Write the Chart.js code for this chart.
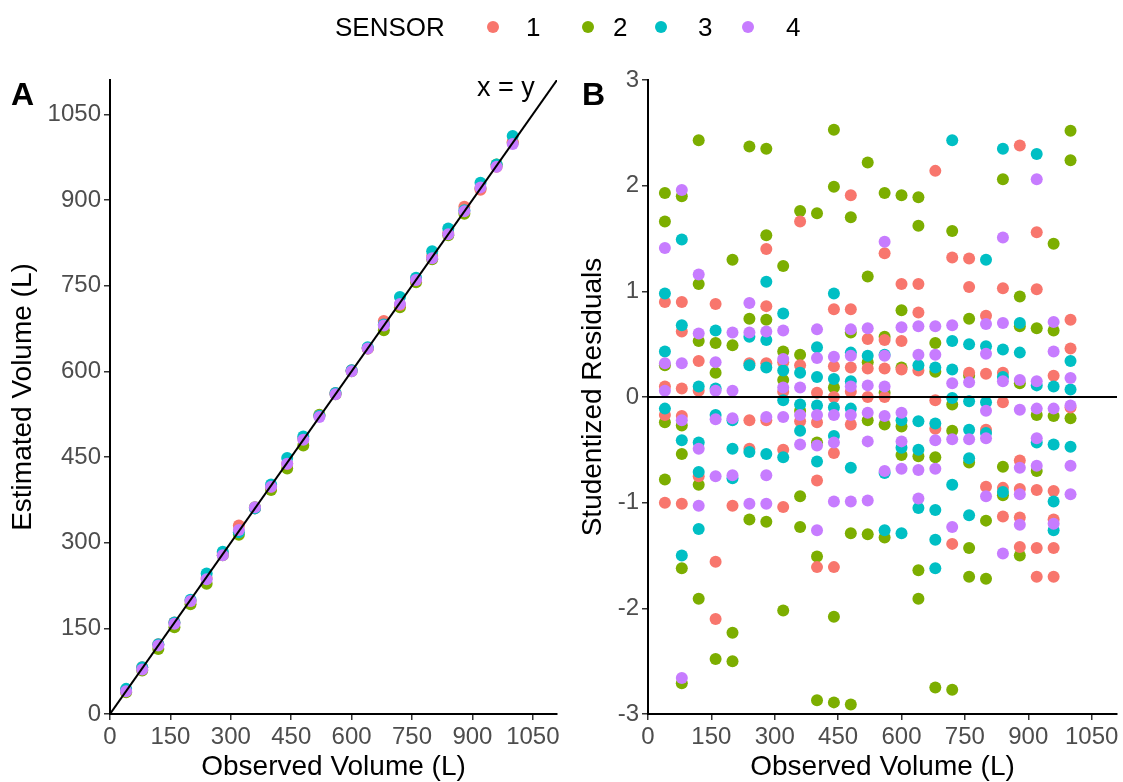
<!DOCTYPE html>
<html>
<head>
<meta charset="utf-8">
<script src="https://cdn.jsdelivr.net/npm/chart.js@4.4.1/dist/chart.umd.min.js"></script>
<style>
  body { margin: 0; background: #fff; font-family: 'Liberation Sans', Arial, sans-serif; }
  #wrap { position: relative; width: 1123px; height: 782px; overflow: hidden; }
  canvas { position: absolute; top: 0; }
  #chartA { left: 0; }
  #chartB { left: 575px; }
  .lbl { position: absolute; color: #000; white-space: nowrap; line-height: 1; }
  .panel { font-weight: bold; font-size: 32px; }
  .dot { position: absolute; width: 12px; height: 12px; border-radius: 50%; }
</style>
</head>
<body>
<div id="wrap">
  <canvas id="chartA" width="575" height="782"></canvas>
  <canvas id="chartB" width="548" height="782"></canvas>

  <!-- legend -->
  <div class="lbl" style="left:335px; top:14px; font-size:26px;">SENSOR</div>
  <div class="dot" style="left:487px; top:21px; background:#F8766D"></div>
  <div class="lbl" style="left:526px; top:14px; font-size:26px;">1</div>
  <div class="dot" style="left:582px; top:21px; background:#7CAE00"></div>
  <div class="lbl" style="left:613px; top:14px; font-size:26px;">2</div>
  <div class="dot" style="left:655px; top:21px; background:#00BFC4"></div>
  <div class="lbl" style="left:698px; top:14px; font-size:26px;">3</div>
  <div class="dot" style="left:742px; top:21px; background:#C77CFF"></div>
  <div class="lbl" style="left:786px; top:14px; font-size:26px;">4</div>

  <div class="lbl panel" style="left:11px; top:78px;">A</div>
  <div class="lbl panel" style="left:582px; top:78px;">B</div>
  <div class="lbl" style="left:477px; top:74px; font-size:27px;">x = y</div>
</div>

<script>
// observed volumes (L)
const observed = [40, 80, 120, 160, 200, 240, 280, 320, 360, 400, 440, 480, 520,
  560, 600, 640, 680, 720, 760, 800, 840, 880, 920, 960, 1000];

const axisTicks = [0, 150, 300, 450, 600, 750, 900, 1050];
const residTicks = [-3, -2, -1, 0, 1, 2, 3];

const sensorNames = ['1', '2', '3', '4'];
const sensorColors = ['#F8766D', '#7CAE00', '#00BFC4', '#C77CFF'];

// panel A: estimated volume per observed level
const est1 = [42, 82, 122, 160, 198, 238, 282, 330, 360, 398, 438, 482, 522, 562, 602, 640, 688, 716, 760, 802, 842, 888, 918, 958, 1002];
const est2 = [38, 76, 114, 152, 192, 228, 278, 314, 362, 392, 430, 470, 524, 560, 600, 640, 672, 712, 756, 796, 838, 876, 920, 962, 1000];
const est3 = [44, 82, 122, 160, 200, 246, 284, 318, 360, 402, 448, 486, 522, 562, 602, 642, 682, 730, 764, 810, 850, 882, 930, 962, 1012];
const est4 = [40, 78, 120, 158, 198, 236, 278, 322, 362, 398, 438, 480, 520, 560, 600, 640, 680, 718, 760, 798, 840, 880, 922, 958, 998];

// panel B: studentized residuals, one list per observed level
const res1 = [
  [0.90, 0.10, -0.17, -1.00], [0.90, 0.62, 0.08, -0.18, -1.01], [0.34, 0.06, -0.75],
  [0.88, -1.56, -2.10], [-1.03], [0.32, -0.22, -0.49], [1.40, 0.86, 0.32, -0.22],
  [0.33, 0.05, -0.50, -1.04], [1.66, 0.30, -0.23], [0.04, -0.24, -0.79, -1.61],
  [0.83, 0.29, 0.00, -0.53, -1.61], [1.91, 0.83, 0.28, 0.05, -0.26], [0.55, 0.27, 0.00],
  [1.36, 0.54, 0.27, 0.00], [1.07, 0.53, 0.26], [1.07, 0.80, 0.25], [2.14, -0.03, -0.30],
  [1.32, -1.39], [1.31, 1.04, 0.23], [0.77, 0.22, -0.31, -0.85], [1.03, 0.23, -0.05, -0.86, -1.13],
  [2.38, -0.60, -0.87, -1.14, -1.42], [1.56, 1.02, -0.88, -1.43, -1.70],
  [0.20, -0.89, -1.16, -1.43, -1.70], [0.73, 0.46, -0.10]
];
const res2 = [
  [1.93, 1.66, 0.30, -0.24, -0.78], [1.90, -0.27, -0.54, -1.62, -2.71], [2.43, 1.07, 0.53, -0.83, -1.91],
  [0.51, 0.23, -2.48], [1.30, 0.49, -2.23, -2.50], [2.37, 0.74, -1.16], [2.35, 1.53, 0.73, -1.18],
  [1.24, 0.43, 0.16, -2.02], [1.76, 0.40, -0.13, -0.94, -1.23], [1.74, -0.43, -1.51, -2.87],
  [2.53, 1.99, 0.09, -2.08, -2.89], [1.70, 0.61, -1.29, -2.91], [2.22, 1.14, 0.33, -0.22, -1.30],
  [1.93, 0.57, 0.04, -0.26, -1.33], [1.91, 0.82, 0.28, -0.28, -0.55], [1.89, 1.62, -0.56, -1.64, -1.91],
  [0.51, 0.24, -0.57, -2.75], [1.57, -0.07, -0.32, -2.77], [0.74, 0.20, -0.62, -1.43, -1.70],
  [-1.17, -1.72], [2.06, -0.66, -0.93], [0.95, 0.67, 0.13, -1.50], [0.65, -0.17, -0.70],
  [1.45, 0.63, -0.18], [2.52, 2.24, -0.20]
];
const res3 = [
  [0.98, 0.43, -0.11], [1.49, 0.68, -0.41, -1.50], [0.10, -0.43, -0.71, -1.25],
  [0.63, 0.08, -0.17], [-0.22, -0.49, -0.77], [0.57, 0.30, -0.52], [1.09, 0.54, 0.28, -0.54],
  [0.79, 0.25, -0.03, -0.57], [0.23, -0.07, -0.32], [0.47, 0.19, -0.08, -0.61],
  [0.98, 0.17, -0.10, -0.37], [0.42, 0.15, -0.11, -0.67], [0.39],
  [0.40, -0.72, -1.26], [-0.22, -0.48, -1.29], [0.30, -0.23, -0.50, -1.05],
  [0.28, -0.25, -1.07, -1.35, -1.62], [2.43, 0.53, 0.26, -0.01, -0.83], [0.50, -0.04, -0.31, -0.58, -1.12],
  [1.30, 0.48, -0.05, -0.34], [2.35, 0.45, 0.19, -0.90], [0.70, 0.42], [2.30, 0.11, -0.43],
  [0.10, -0.45, -0.99, -1.26], [0.34, 0.07, -0.47]
];
const res4 = [
  [1.41, 0.32, 0.06], [1.96, 0.32, -0.22, -2.66], [1.16, 0.60, -0.49, -1.03],
  [0.33, 0.06, -0.21, -0.75], [0.61, 0.06, -0.20, -0.74], [0.89, 0.61, -1.01], [0.62, -0.19, -0.74, -1.01],
  [0.63, 0.36, 0.09, -0.19], [0.09, -0.17, -0.45], [0.64, 0.37, -0.17, -0.46, -1.26],
  [0.38, -0.17, -0.43, -0.99], [0.64, 0.39, 0.10, -0.17, -0.99], [0.65, 0.11, -0.15, -0.42, -0.98],
  [1.47, 0.39, 0.10, -0.18, -0.70], [0.66, -0.15, -0.42, -0.68], [0.67, 0.40, -0.69, -0.96],
  [0.67, 0.40, -0.41, -0.68], [0.68, 0.13, -0.40, -1.23], [0.14, -0.40],
  [0.69, 0.41, -0.13, -0.39, -0.94], [1.51, 0.70, 0.15, -1.48], [0.16, -0.12, -0.67, -0.92, -1.21],
  [2.06, 0.15, -0.11, -0.39, -0.65], [0.71, 0.43, -0.11, -1.20], [0.18, -0.08, -0.65, -0.92]
];

const identityLine = [0, 1110];
const zeroLineX = [0, 1110];

Chart.defaults.font.family = "'Liberation Sans', Arial, sans-serif";
Chart.defaults.animation = false;

const estimates = [est1, est2, est3, est4];
const residuals = [res1, res2, res3, res4];
// purple on top, green at the bottom
const drawOrder = [3, 4, 2, 1];

function tickAxis(list) {
  return s => { s.ticks = list.map(v => ({ value: v })); };
}

function axisStyle(extra) {
  return Object.assign({
    type: 'linear',
    grid: { drawOnChartArea: false, drawTicks: true, tickLength: 6, color: '#333', lineWidth: 1.5 },
    border: { display: true, color: '#000', width: 2 },
    ticks: {
      color: '#4d4d4d', font: { size: 24 }, padding: 3,
      autoSkip: false, maxRotation: 0, minRotation: 0,
      callback: v => String(v)
    }
  }, extra);
}

new Chart(document.getElementById('chartA'), {
  type: 'scatter',
  data: {
    datasets: [
      {
        type: 'line',
        data: identityLine.map(v => ({ x: v, y: v })),
        borderColor: '#000',
        borderWidth: 2,
        pointRadius: 0,
        order: 0
      },
      ...estimates.map((est, s) => ({
        label: sensorNames[s],
        data: observed.map((o, i) => ({ x: o, y: est[i] })),
        backgroundColor: sensorColors[s],
        borderWidth: 0,
        pointRadius: 6,
        order: drawOrder[s]
      }))
    ]
  },
  options: {
    responsive: false,
    layout: { padding: { top: 80, right: 18, left: 0, bottom: 0 } },
    plugins: { legend: { display: false }, tooltip: { enabled: false } },
    scales: {
      x: axisStyle({
        min: 0, max: 1110,
        afterBuildTicks: tickAxis(axisTicks),
        afterFit: s => { s.height = 68; },
        title: { display: true, text: 'Observed Volume (L)', color: '#000', font: { size: 28 }, padding: { top: 0, bottom: -2 } }
      }),
      y: axisStyle({
        min: 0, max: 1110,
        afterBuildTicks: tickAxis(axisTicks),
        afterFit: s => { s.width = 110; },
        title: { display: true, text: 'Estimated Volume (L)', color: '#000', font: { size: 28 }, padding: { top: 6, bottom: 0 } }
      })
    }
  }
});

new Chart(document.getElementById('chartB'), {
  type: 'scatter',
  data: {
    datasets: [
      {
        type: 'line',
        data: zeroLineX.map(v => ({ x: v, y: 0 })),
        borderColor: '#000',
        borderWidth: 2,
        pointRadius: 0,
        order: 0
      },
      ...residuals.map((res, s) => ({
        label: sensorNames[s],
        data: res.flatMap((list, i) => list.map(r => ({ x: observed[i], y: r }))),
        backgroundColor: sensorColors[s],
        borderWidth: 0,
        pointRadius: 6,
        order: drawOrder[s]
      }))
    ]
  },
  options: {
    responsive: false,
    layout: { padding: { top: 80, right: 4, left: 0, bottom: 0 } },
    plugins: { legend: { display: false }, tooltip: { enabled: false } },
    scales: {
      x: axisStyle({
        min: 0, max: 1110,
        afterBuildTicks: tickAxis(axisTicks),
        afterFit: s => { s.height = 68; },
        title: { display: true, text: 'Observed Volume (L)', color: '#000', font: { size: 28 }, padding: { top: 0, bottom: -2 } }
      }),
      y: axisStyle({
        min: -3, max: 3,
        afterBuildTicks: tickAxis(residTicks),
        afterFit: s => { s.width = 73; },
        title: { display: true, text: 'Studentized Residuals', color: '#000', font: { size: 28 }, padding: { top: 1, bottom: 0 } }
      })
    }
  }
});
</script>
</body>
</html>
